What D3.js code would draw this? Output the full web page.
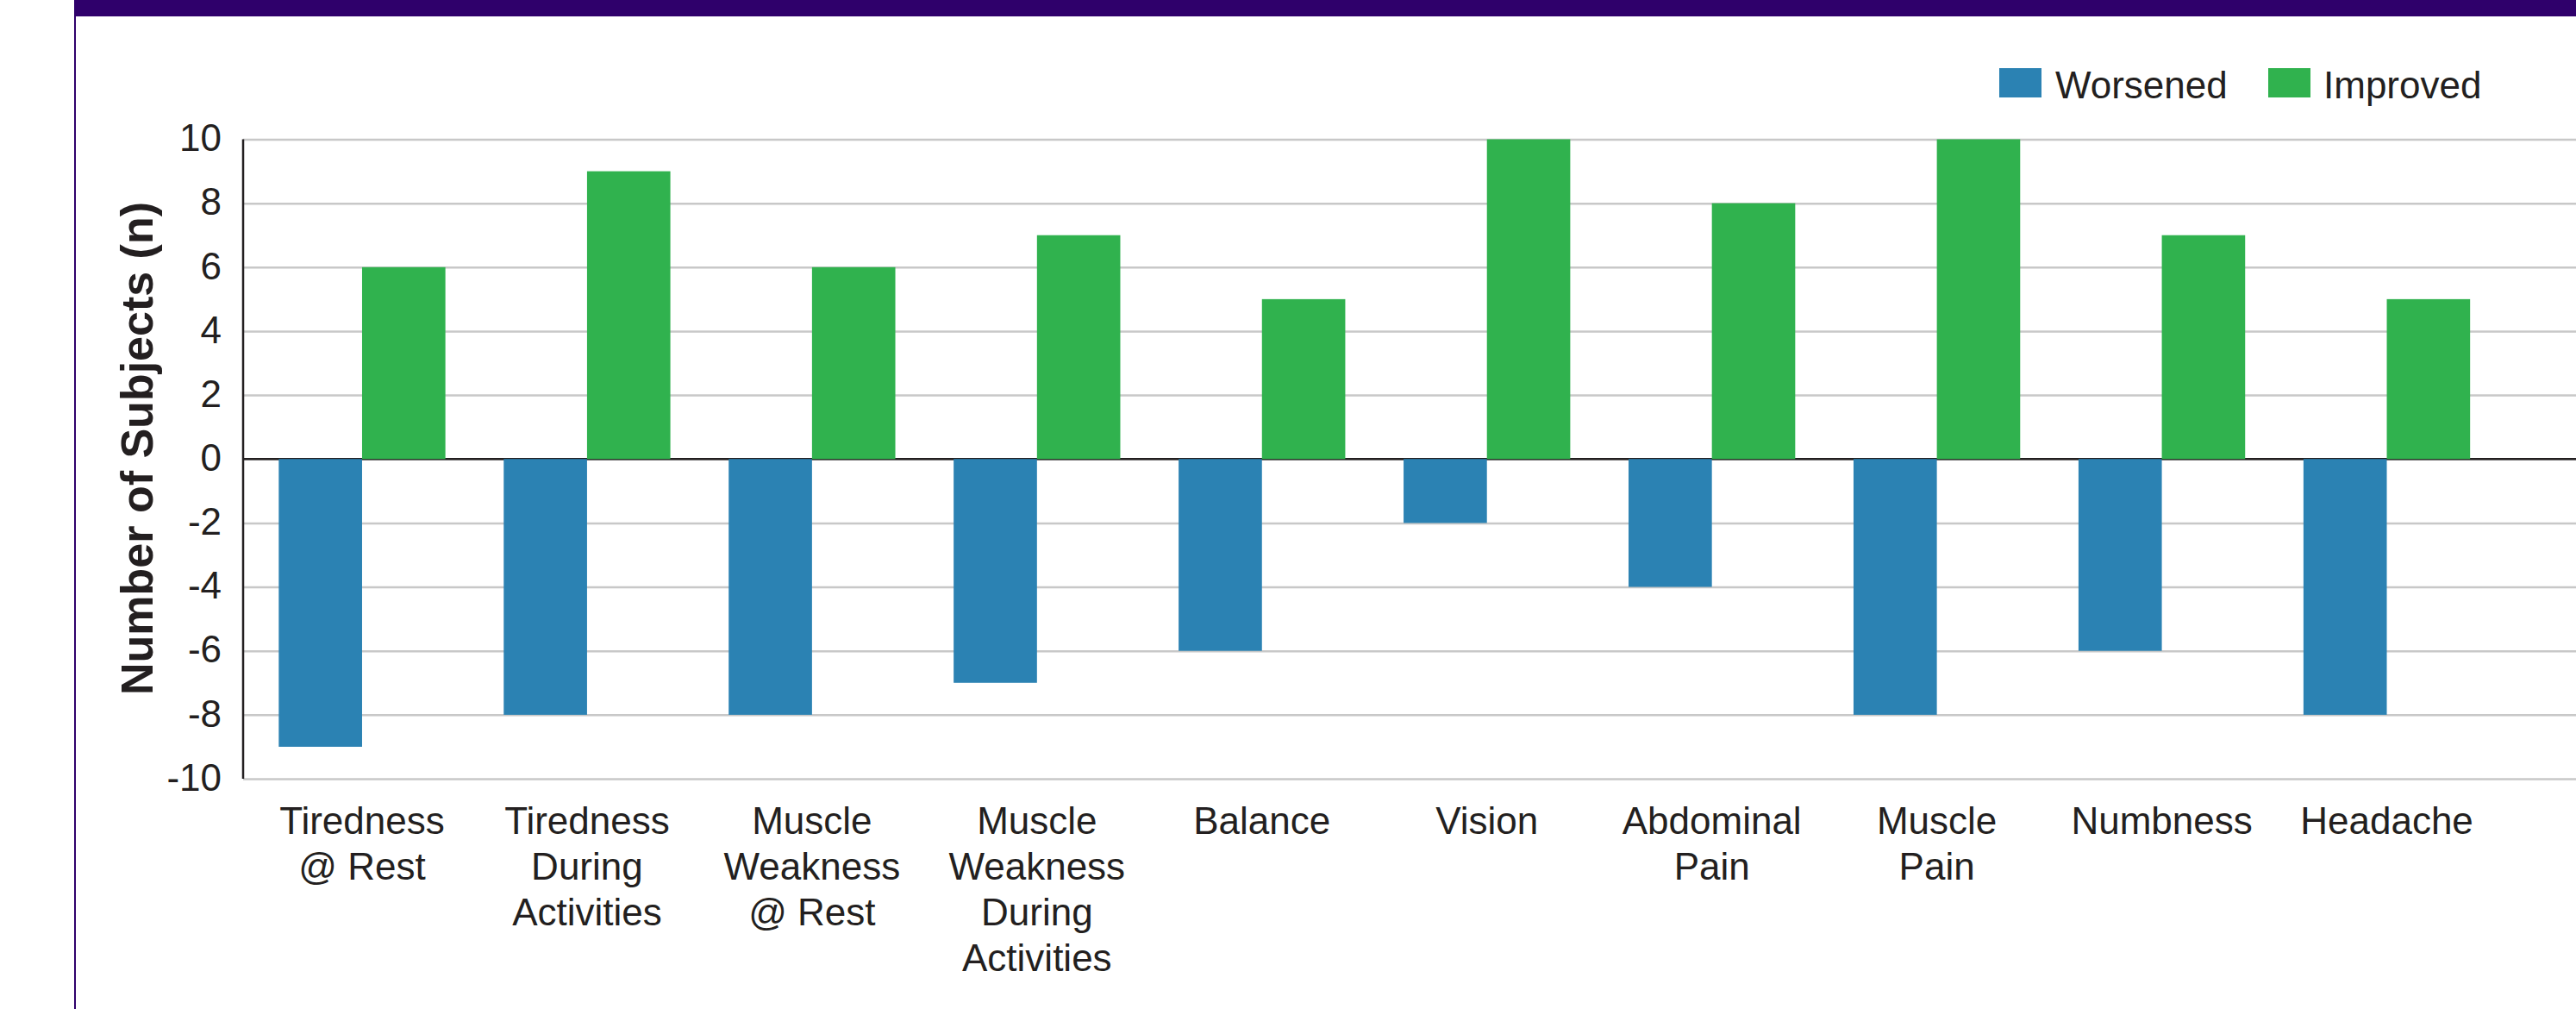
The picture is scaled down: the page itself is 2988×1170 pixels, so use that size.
<!DOCTYPE html>
<html>
<head>
<meta charset="utf-8">
<script src="https://cdn.jsdelivr.net/npm/d3@7"></script>
<style>
  html, body { margin: 0; padding: 0; background: #ffffff; }
  svg { display: block; }
  text { font-family: "Liberation Sans", Arial, Helvetica, sans-serif; fill: #231f20; }
</style>
</head>
<body>
<svg id="chart" width="2988" height="1170"></svg>
<script>
// ---- data ----
const categories = [
  "Tiredness @ Rest",
  "Tiredness During Activities",
  "Muscle Weakness @ Rest",
  "Muscle Weakness During Activities",
  "Balance",
  "Vision",
  "Abdominal Pain",
  "Muscle Pain",
  "Numbness",
  "Headache"
];
const categoryLines = [
  ["Tiredness", "@ Rest"],
  ["Tiredness", "During", "Activities"],
  ["Muscle", "Weakness", "@ Rest"],
  ["Muscle", "Weakness", "During", "Activities"],
  ["Balance"],
  ["Vision"],
  ["Abdominal", "Pain"],
  ["Muscle", "Pain"],
  ["Numbness"],
  ["Headache"]
];
const seriesNames = ["Worsened", "Improved"];
const worsened = [-9, -8, -8, -7, -6, -2, -4, -8, -6, -8];
const improved = [6, 9, 6, 7, 5, 10, 8, 10, 7, 5];
const yTicks = [-10, -8, -6, -4, -2, 0, 2, 4, 6, 8, 10];
const yTitle = "Number of Subjects (n)";

// ---- styles ----
const colors = { "Worsened": "#2b82b3", "Improved": "#30b24e" };
const purple = "#2f006b";

const W = 2988, H = 1170;
const svg = d3.select("#chart");

// frame: header band + left border
svg.append("rect").attr("x", 86).attr("y", 0).attr("width", W - 86).attr("height", 19).attr("fill", purple);
svg.append("line").attr("x1", 87).attr("x2", 87).attr("y1", 0).attr("y2", H)
  .attr("stroke", purple).attr("stroke-width", 2);

const axisX = 282;
const y = d3.scaleLinear().domain([-10, 10]).range([903, 161.5]);
const x0 = d3.scaleBand().domain(categories).range([289.5, 2899]).paddingInner(0).paddingOuter(0);
const x1 = d3.scaleBand().domain(seriesNames).range([0, x0.bandwidth()]).paddingInner(0).paddingOuter(0.35);

// gridlines + tick labels via axis
const yAxis = d3.axisLeft(y).tickValues(yTicks).tickSize(-(W - axisX)).tickPadding(25).tickFormat(d => String(d));
const gy = svg.append("g").attr("transform", `translate(${axisX},0)`).call(yAxis);
gy.select(".domain").remove();
gy.selectAll(".tick line").attr("stroke", "#c8c8c8").attr("stroke-width", 2.5);
gy.selectAll(".tick text")
  .attr("font-size", 44)
  .attr("fill", "#231f20")
  .attr("dy", "0.3em")
  .style("font-family", '"Liberation Sans", Arial, sans-serif');

// zero line
svg.append("line").attr("x1", axisX).attr("x2", W).attr("y1", y(0)).attr("y2", y(0))
  .attr("stroke", "#231f20").attr("stroke-width", 2.5);

// bars
const rows = categories.map((c, i) => ({ cat: c, vals: [
  { key: "Worsened", v: worsened[i] },
  { key: "Improved", v: improved[i] }
]}));
const groups = svg.append("g").selectAll("g").data(rows).join("g")
  .attr("transform", d => `translate(${x0(d.cat)},0)`);
groups.selectAll("rect").data(d => d.vals).join("rect")
  .attr("x", d => x1(d.key))
  .attr("width", x1.bandwidth())
  .attr("y", d => Math.min(y(d.v), y(0)))
  .attr("height", d => Math.abs(y(d.v) - y(0)))
  .attr("fill", d => colors[d.key]);

// y axis line
svg.append("line").attr("x1", axisX).attr("x2", axisX).attr("y1", y(10)).attr("y2", y(-10))
  .attr("stroke", "#231f20").attr("stroke-width", 2.5);

// x labels
const xl = svg.append("g").selectAll("text").data(categories).join("text")
  .attr("text-anchor", "middle")
  .attr("font-size", 44)
  .attr("x", d => x0(d) + x0.bandwidth() / 2)
  .attr("y", 967);
xl.each(function(d, i) {
  const t = d3.select(this);
  categoryLines[i].forEach((ln, j) => {
    t.append("tspan").attr("x", x0(d) + x0.bandwidth() / 2).attr("y", 967 + j * 53).text(ln);
  });
});

// y title
svg.append("text")
  .attr("transform", "translate(177,520) rotate(-90)")
  .attr("text-anchor", "middle")
  .attr("font-size", 52)
  .attr("font-weight", "bold")
  .text(yTitle);

// legend
const legendItems = [
  { key: "Worsened", sx: 2319, tx: 2384 },
  { key: "Improved", sx: 2631, tx: 2695 }
];
const lg = svg.append("g");
legendItems.forEach(it => {
  lg.append("rect").attr("x", it.sx).attr("y", 79).attr("width", 49).attr("height", 34).attr("fill", colors[it.key]);
  lg.append("text").attr("x", it.tx).attr("y", 114).attr("font-size", 44).text(it.key);
});
</script>
</body>
</html>
